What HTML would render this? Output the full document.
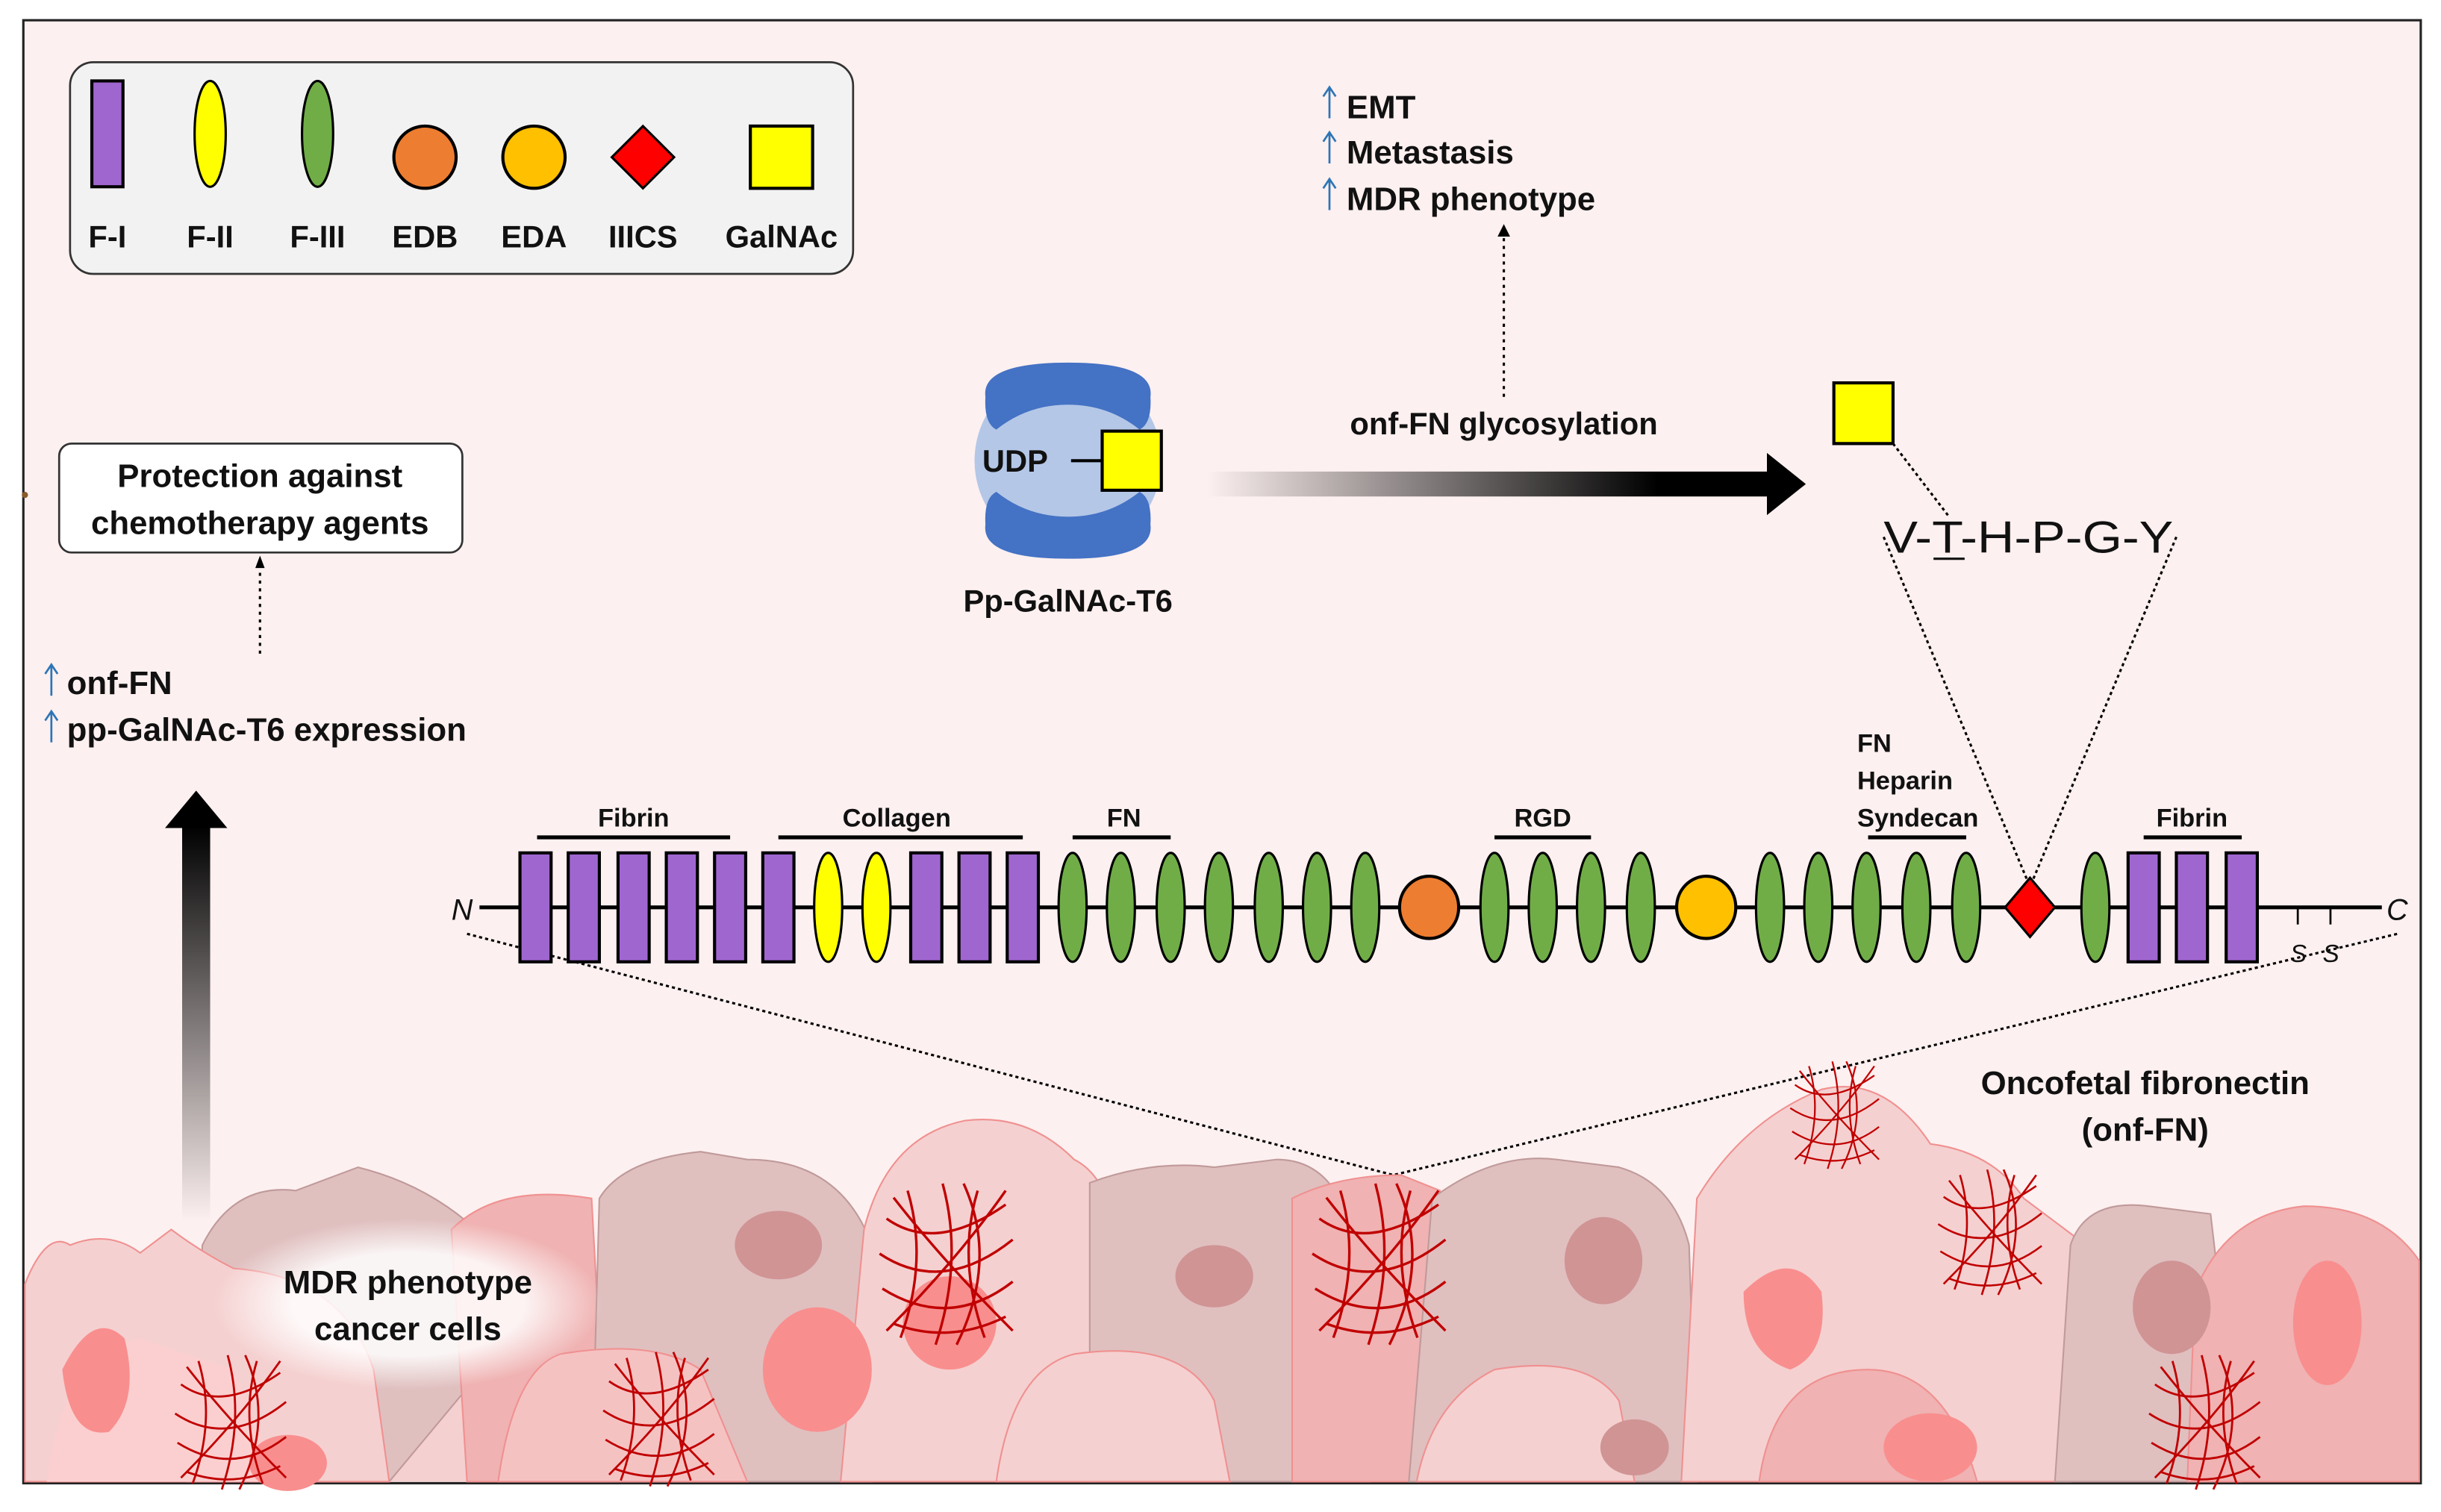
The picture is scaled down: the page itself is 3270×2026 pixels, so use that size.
<!DOCTYPE html>
<html><head><meta charset="utf-8"><style>html,body{margin:0;padding:0;background:#fff}svg{display:block}text{font-family:"Liberation Sans",sans-serif}</style></head>
<body>
<svg xmlns="http://www.w3.org/2000/svg" width="3270" height="2026" viewBox="0 0 1568 971.5" preserveAspectRatio="none">
<defs>
<linearGradient id="ga" x1="0" x2="1" y1="0" y2="0"><stop offset="0" stop-color="#000" stop-opacity="0"/><stop offset="0.8" stop-color="#000"/></linearGradient>
<linearGradient id="gu" x1="0" x2="0" y1="0" y2="1"><stop offset="0" stop-color="#000"/><stop offset="1" stop-color="#000" stop-opacity="0"/></linearGradient>
<radialGradient id="glow"><stop offset="0.6" stop-color="#fff" stop-opacity="0.85"/><stop offset="1" stop-color="#fff" stop-opacity="0"/></radialGradient>
<g id="fib" fill="none" stroke="#c00000" stroke-width="1.8">
<path d="M-45,-30 Q-10,-5 40,-40"/><path d="M-50,-5 Q-5,25 45,-15"/><path d="M-48,20 Q0,50 45,15"/><path d="M-40,45 Q0,60 40,40"/>
<path d="M-30,-50 Q-15,0 -35,55"/><path d="M-5,-55 Q10,0 -10,60"/><path d="M20,-50 Q5,0 25,55"/>
<path d="M-40,-45 Q-5,0 45,50"/><path d="M40,-50 Q5,0 -45,50"/><path d="M10,-55 Q35,0 5,60"/>
</g>
</defs>
<rect x="15" y="13" width="1540" height="940" fill="#fdf0f0" stroke="#222" stroke-width="1.5"/>
<circle cx="16" cy="318" r="2" fill="#8b5a2b"/>

<!-- Legend -->
<rect x="45" y="40" width="503" height="136" rx="15" fill="#f2f2f2" stroke="#333" stroke-width="1.3"/>
<rect x="59" y="52" width="20" height="68" fill="#a066d0" stroke="#000" stroke-width="2"/>
<ellipse cx="135" cy="86" rx="10" ry="34" fill="#ffff00" stroke="#000" stroke-width="1.5"/>
<ellipse cx="204" cy="86" rx="10" ry="34" fill="#70ad47" stroke="#000" stroke-width="1.5"/>
<circle cx="273" cy="101" r="20" fill="#ed7d31" stroke="#000" stroke-width="2"/>
<circle cx="343" cy="101" r="20" fill="#ffc000" stroke="#000" stroke-width="2"/>
<polygon points="413,81 433,101 413,121 393,101" fill="#ff0000" stroke="#000" stroke-width="1.5"/>
<rect x="482" y="81" width="40" height="40" fill="#ffff00" stroke="#000" stroke-width="2"/>
<g font-weight="bold" font-size="20" text-anchor="middle" fill="#111">
<text x="69" y="159">F-I</text><text x="135" y="159">F-II</text><text x="204" y="159">F-III</text><text x="273" y="159">EDB</text><text x="343" y="159">EDA</text><text x="413" y="159">IIICS</text><text x="502" y="159">GalNAc</text>
</g>

<!-- top list -->
<g font-weight="bold" font-size="21" fill="#111">
<text x="865" y="76">EMT</text><text x="865" y="105">Metastasis</text><text x="865" y="135">MDR phenotype</text>
</g>
<g stroke="#2e75b6" stroke-width="1.3" fill="none">
<path d="M854,76 V56 M850,62 L854,56 L858,62"/><path d="M854,105 V85 M850,91 L854,85 L858,91"/><path d="M854,135 V115 M850,121 L854,115 L858,121"/>
<path d="M33,447 V427 M29,433 L33,427 L37,433"/><path d="M33,477 V457 M29,463 L33,457 L37,463"/>
</g>
<line x1="966" y1="255" x2="966" y2="152" stroke="#000" stroke-width="1.5" stroke-dasharray="2,3"/>
<polygon points="962,152 966,144 970,152" fill="#000"/>
<text x="966" y="279" font-weight="bold" font-size="20" text-anchor="middle" fill="#111">onf-FN glycosylation</text>
<rect x="775" y="303" width="362" height="16" fill="url(#ga)"/>
<polygon points="1135,291 1160,311 1135,331" fill="#000"/>

<!-- enzyme -->
<ellipse cx="686" cy="296" rx="60" ry="60" fill="#b4c7e7"/>
<path d="M633,255 Q630,233 686,233 Q742,233 739,255 Q740,272 732,276 Q712,260 686,260 Q660,260 640,276 Q632,272 633,255Z" fill="#4472c4"/>
<path d="M633,337 Q630,359 686,359 Q742,359 739,337 Q740,320 732,316 Q712,332 686,332 Q660,332 640,316 Q632,320 633,337Z" fill="#4472c4"/>
<text x="631" y="303" font-weight="bold" font-size="20" fill="#111">UDP</text>
<line x1="688" y1="296" x2="708" y2="296" stroke="#000" stroke-width="2"/>
<rect x="708" y="277" width="38" height="38" fill="#ffff00" stroke="#000" stroke-width="2"/>
<text x="686" y="393" font-weight="bold" font-size="20" text-anchor="middle" fill="#111">Pp-GalNAc-T6</text>

<!-- peptide -->
<rect x="1178" y="246" width="38" height="39" fill="#ffff00" stroke="#000" stroke-width="2"/>
<line x1="1216" y1="285" x2="1252" y2="332" stroke="#000" stroke-width="1.5" stroke-dasharray="2,2"/>
<text x="1210" y="355" font-size="29" fill="#111" textLength="186" lengthAdjust="spacingAndGlyphs">V-T-H-P-G-Y</text>
<line x1="1242" y1="359" x2="1262" y2="359" stroke="#111" stroke-width="1.5"/>
<line x1="1210" y1="345" x2="1302" y2="565" stroke="#000" stroke-width="1.5" stroke-dasharray="2,2"/>
<line x1="1398" y1="345" x2="1306" y2="565" stroke="#000" stroke-width="1.5" stroke-dasharray="2,2"/>

<!-- protection box -->
<rect x="38" y="285" width="259" height="70" rx="8" fill="#fff" stroke="#333" stroke-width="1.3"/>
<g font-weight="bold" font-size="21" text-anchor="middle" fill="#111"><text x="167" y="313">Protection against</text><text x="167" y="343">chemotherapy agents</text></g>
<line x1="167" y1="420" x2="167" y2="365" stroke="#000" stroke-width="1.5" stroke-dasharray="2,3"/>
<polygon points="164,365 167,357 170,365" fill="#000"/>
<g font-weight="bold" font-size="21" fill="#111"><text x="43" y="446">onf-FN</text><text x="43" y="476">pp-GalNAc-T6 expression</text></g>
<rect x="117" y="530" width="18" height="255" fill="url(#gu)"/>
<polygon points="106,532 126,508 146,532" fill="#000"/>

<!-- dotted triangle to cells -->
<polyline points="300,600 895,755 1540,600" fill="none" stroke="#000" stroke-width="1.5" stroke-dasharray="2,2"/>

<!-- cells -->
<g stroke-width="1">
<rect x="16" y="830" width="1538" height="122" fill="#f5d0d0"/>
<path d="M130,800 Q150,760 190,765 L230,750 Q270,760 300,785 Q320,820 310,880 L250,952 L120,952Z" fill="#e0bfbf" stroke="#c09a9a"/>
<path d="M290,790 Q320,760 380,770 L390,952 L300,952Z" fill="#f0b2b2" stroke="#f09090"/>
<path d="M385,770 Q400,745 450,740 L480,745 Q540,745 560,800 L560,952 L380,952Z" fill="#e0bfbf" stroke="#c09a9a"/>
<path d="M16,825 Q30,790 45,800 Q70,790 90,805 L110,790 Q130,805 150,815 Q220,820 240,880 L250,952 L16,952Z" fill="#f5d0d0" stroke="#f09090"/>
<path d="M555,790 Q570,730 620,720 Q660,715 690,745 Q720,760 720,830 L700,952 L540,952Z" fill="#f5d0d0" stroke="#f09090"/>
<path d="M700,760 Q740,745 780,750 L820,745 Q860,745 870,800 L880,952 L700,952Z" fill="#e0bfbf" stroke="#c09a9a"/>
<path d="M830,770 Q860,755 900,755 L925,765 L920,952 L830,952Z" fill="#f0b2b2" stroke="#f09090"/>
<path d="M920,770 Q960,740 1000,745 L1040,750 Q1075,760 1085,800 L1090,952 L905,952Z" fill="#e0bfbf" stroke="#c09a9a"/>
<path d="M1090,770 Q1120,720 1170,700 Q1210,690 1240,735 Q1280,740 1300,770 L1340,800 L1330,952 L1080,952Z" fill="#f5d0d0" stroke="#f09090"/>
<path d="M1330,800 Q1340,770 1380,775 L1420,780 L1440,952 L1320,952Z" fill="#e0bfbf" stroke="#c09a9a"/>
<path d="M1410,830 Q1430,780 1480,775 Q1530,775 1554,810 L1554,952 L1405,952Z" fill="#f0b2b2" stroke="#f09090"/>
<path d="M30,952 Q40,870 90,860 Q120,870 150,880 L180,952Z" fill="#fbcfcf"/>
<path d="M320,952 Q330,880 360,870 Q420,860 450,880 L480,952Z" fill="#f5c2c2" stroke="#f09090"/>
<path d="M640,952 Q650,880 690,870 Q760,860 780,900 L790,952Z" fill="#f5d0d0" stroke="#f09090"/>
<path d="M910,952 Q920,900 960,880 Q1020,870 1040,900 L1050,952Z" fill="#f5d0d0" stroke="#f09090"/>
<path d="M1130,952 Q1140,880 1200,880 Q1250,880 1270,952Z" fill="#f0b2b2" stroke="#f09090"/>
</g>
<g fill="#f98e8e">
<path d="M40,880 Q60,840 80,860 Q90,900 70,920 Q45,925 40,880Z"/>
<ellipse cx="525" cy="880" rx="35" ry="40"/>
<path d="M1120,830 Q1150,800 1170,830 Q1175,870 1150,880 Q1120,870 1120,830Z"/>
<ellipse cx="1495" cy="850" rx="22" ry="40"/>
<ellipse cx="185" cy="940" rx="25" ry="18"/><ellipse cx="610" cy="850" rx="30" ry="30"/>
<ellipse cx="1240" cy="930" rx="30" ry="22"/>
</g>
<g fill="#d09494">
<ellipse cx="500" cy="800" rx="28" ry="22"/><ellipse cx="780" cy="820" rx="25" ry="20"/>
<ellipse cx="1030" cy="810" rx="25" ry="28"/><ellipse cx="1395" cy="840" rx="25" ry="30"/>
<ellipse cx="1050" cy="930" rx="22" ry="18"/>
</g>
<ellipse cx="262" cy="838" rx="125" ry="55" fill="url(#glow)"/>
<g font-weight="bold" font-size="21" text-anchor="middle" fill="#111"><text x="262" y="831">MDR phenotype</text><text x="262" y="861">cancer cells</text></g>
<use href="#fib" transform="translate(150,912) scale(0.75)"/>
<use href="#fib" transform="translate(425,910) scale(0.75)"/>
<use href="#fib" transform="translate(610,810) scale(0.9)"/>
<use href="#fib" transform="translate(888,810) scale(0.9)"/>
<use href="#fib" transform="translate(1180,715) scale(0.6)"/>
<use href="#fib" transform="translate(1280,790) scale(0.7)"/>
<use href="#fib" transform="translate(1418,912) scale(0.75)"/>
<g font-weight="bold" font-size="21" text-anchor="middle" fill="#111"><text x="1378" y="703">Oncofetal fibronectin</text><text x="1378" y="733">(onf-FN)</text></g>

<!-- domain chain -->
<line x1="308" y1="583" x2="1530" y2="583" stroke="#000" stroke-width="2.5"/>
<text x="290" y="591" font-size="19" font-style="italic" fill="#111">N</text>
<text x="1533" y="591" font-size="19" font-style="italic" fill="#111">C</text>
<g stroke="#000" stroke-width="1.3"><line x1="1476" y1="583" x2="1476" y2="594"/><line x1="1497" y1="583" x2="1497" y2="594"/></g>
<g font-size="16" font-style="italic" fill="#111"><text x="1471" y="618">S</text><text x="1492" y="618">S</text></g>
<g fill="#a066d0" stroke="#000" stroke-width="2">
<rect x="334" y="548" width="20" height="70"/><rect x="365" y="548" width="20" height="70"/><rect x="397" y="548" width="20" height="70"/><rect x="428" y="548" width="20" height="70"/><rect x="459" y="548" width="20" height="70"/><rect x="490" y="548" width="20" height="70"/>
<rect x="585" y="548" width="20" height="70"/><rect x="616" y="548" width="20" height="70"/><rect x="647" y="548" width="20" height="70"/>
<rect x="1367" y="548" width="20" height="70"/><rect x="1398" y="548" width="20" height="70"/><rect x="1430" y="548" width="20" height="70"/>
</g>
<g fill="#ffff00" stroke="#000" stroke-width="1.5"><ellipse cx="532" cy="583" rx="9" ry="35"/><ellipse cx="563" cy="583" rx="9" ry="35"/></g>
<g fill="#70ad47" stroke="#000" stroke-width="1.5">
<ellipse cx="689" cy="583" rx="9" ry="35"/><ellipse cx="720" cy="583" rx="9" ry="35"/><ellipse cx="752" cy="583" rx="9" ry="35"/><ellipse cx="783" cy="583" rx="9" ry="35"/><ellipse cx="815" cy="583" rx="9" ry="35"/><ellipse cx="846" cy="583" rx="9" ry="35"/><ellipse cx="877" cy="583" rx="9" ry="35"/>
<ellipse cx="960" cy="583" rx="9" ry="35"/><ellipse cx="991" cy="583" rx="9" ry="35"/><ellipse cx="1022" cy="583" rx="9" ry="35"/><ellipse cx="1054" cy="583" rx="9" ry="35"/>
<ellipse cx="1137" cy="583" rx="9" ry="35"/><ellipse cx="1168" cy="583" rx="9" ry="35"/><ellipse cx="1199" cy="583" rx="9" ry="35"/><ellipse cx="1231" cy="583" rx="9" ry="35"/><ellipse cx="1263" cy="583" rx="9" ry="35"/>
<ellipse cx="1346" cy="583" rx="9" ry="35"/>
</g>
<ellipse cx="918" cy="583" rx="19" ry="20" fill="#ed7d31" stroke="#000" stroke-width="2"/>
<ellipse cx="1096" cy="583" rx="19" ry="20" fill="#ffc000" stroke="#000" stroke-width="2"/>
<polygon points="1304,564 1320,583 1304,602 1288,583" fill="#ff0000" stroke="#000" stroke-width="1.5"/>
<g stroke="#000" stroke-width="2.5">
<line x1="345" y1="538" x2="469" y2="538"/><line x1="500" y1="538" x2="657" y2="538"/><line x1="689" y1="538" x2="752" y2="538"/><line x1="960" y1="538" x2="1022" y2="538"/><line x1="1200" y1="538" x2="1263" y2="538"/><line x1="1377" y1="538" x2="1440" y2="538"/>
</g>
<g font-weight="bold" font-size="16.5" fill="#111" text-anchor="middle">
<text x="407" y="531">Fibrin</text><text x="576" y="531">Collagen</text><text x="722" y="531">FN</text><text x="991" y="531">RGD</text><text x="1408" y="531">Fibrin</text>
</g>
<g font-weight="bold" font-size="16.5" fill="#111"><text x="1193" y="483">FN</text><text x="1193" y="507">Heparin</text><text x="1193" y="531">Syndecan</text></g>
</svg>
</body></html>
